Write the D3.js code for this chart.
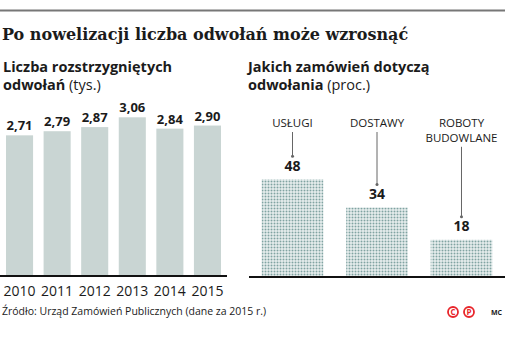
<!DOCTYPE html>
<html><head><meta charset="utf-8">
<script src="https://cdn.jsdelivr.net/npm/d3@7"></script>
<style>
html,body{margin:0;padding:0;background:#fff;}
svg{display:block;}
</style></head>
<body>
<script>
const years = ["2010","2011","2012","2013","2014","2015"];
const counts = [2.71, 2.79, 2.87, 3.06, 2.84, 2.90];
const countLabels = ["2,71","2,79","2,87","3,06","2,84","2,90"];
const categories = [["USŁUGI"],["DOSTAWY"],["ROBOTY","BUDOWLANE"]];
const shares = [48, 34, 18];

const W = 514, H = 342;
const sans = "'Open Sans', 'Noto Sans', sans-serif";
const serif = "'DejaVu Serif', serif";
const ink = "#1b1b1b";

const svg = d3.select("body").append("svg").attr("width", W).attr("height", H);

const defs = svg.append("defs");
const pat = defs.append("pattern").attr("id","dots").attr("patternUnits","userSpaceOnUse")
  .attr("width",3).attr("height",3);
pat.append("rect").attr("x",0.5).attr("y",0.5).attr("width",2).attr("height",2).attr("fill","#80a3a2");

svg.append("line").attr("x1",0).attr("x2",505).attr("y1",10.5).attr("y2",10.5)
  .attr("stroke","#777").attr("stroke-width",2);

svg.append("text").attr("x",2).attr("y",40).attr("font-family",serif).attr("font-weight","bold")
  .attr("font-size",16).attr("fill",ink).text("Po nowelizacji liczba odwołań może wzrosnąć");

function subtitle(x, l1, l2b, l2r){
  const t = svg.append("text").attr("x",x).attr("y",72).attr("font-family",sans).attr("font-size",14.5).attr("fill",ink);
  t.append("tspan").attr("font-weight","bold").text(l1);
  const t2 = svg.append("text").attr("x",x).attr("y",90).attr("font-family",sans).attr("font-size",14.5).attr("fill",ink);
  t2.append("tspan").attr("font-weight","bold").text(l2b);
  t2.append("tspan").text(" " + l2r);
}
subtitle(3, "Liczba rozstrzygniętych", "odwołań", "(tys.)");
subtitle(248, "Jakich zamówień dotyczą", "odwołania", "(proc.)");

// left chart
const xL = d3.scaleBand().domain(years).range([0,227]).paddingInner(0.28).paddingOuter(0.16);
const yL = d3.scaleLinear().domain([0, 3.06]).range([275, 117.3]);
const gL = svg.append("g");
gL.selectAll("rect").data(years).join("rect")
  .attr("x", d => xL(d)).attr("width", xL.bandwidth())
  .attr("y", (d,i) => yL(counts[i])).attr("height", (d,i) => yL(0) - yL(counts[i]))
  .attr("fill","#c9d5d3");
gL.selectAll("text.v").data(years).join("text").attr("class","v")
  .attr("x", d => xL(d) + xL.bandwidth()/2).attr("y", (d,i) => yL(counts[i]) - 5)
  .attr("text-anchor","middle").attr("font-family",sans).attr("font-weight","bold")
  .attr("font-size",13).attr("fill",ink).text((d,i) => countLabels[i]);
const axL = gL.append("g").attr("transform","translate(0,276)")
  .call(d3.axisBottom(xL).tickSize(0).tickPadding(10));
axL.select(".domain").attr("stroke","#111").attr("stroke-width",2).attr("d","M0,0H227");
axL.selectAll("text").attr("font-family",sans).attr("font-size",14).attr("fill",ink);

// right chart
const xR = d3.scaleBand().domain(categories.map(c => c.join(" "))).range([249,505]).paddingInner(0.27).paddingOuter(0.15);
const yR = d3.scaleLinear().domain([0, 48]).range([276, 179.3]);
const gR = svg.append("g");
categories.forEach((c, i) => {
  const key = c.join(" ");
  const cx = xR(key) + xR.bandwidth()/2;
  gR.append("rect").attr("x", xR(key)).attr("width", xR.bandwidth())
    .attr("y", yR(shares[i])).attr("height", yR(0) - yR(shares[i])).attr("fill","url(#dots)");
  const vb = yR(shares[i]) - 8.5;
  gR.append("text").attr("x", cx).attr("y", vb).attr("text-anchor","middle")
    .attr("font-family",sans).attr("font-weight","bold").attr("font-size",14).attr("fill",ink).text(shares[i]);
  c.forEach((line, j) => {
    gR.append("text").attr("x", cx).attr("y", 127 + j*14.8).attr("text-anchor","middle")
      .attr("font-family",sans).attr("font-size",11.5).attr("fill",ink).text(line);
  });
  const top = 127 + (c.length-1)*14.8 + 5;
  const bot = vb - 14.5;
  gR.append("line").attr("x1",cx).attr("x2",cx).attr("y1",top).attr("y2",bot)
    .attr("stroke","#666").attr("stroke-width",1);
  gR.append("circle").attr("cx",cx).attr("cy",bot).attr("r",1.5).attr("fill","#666");
});
gR.append("line").attr("x1",249).attr("x2",505).attr("y1",277).attr("y2",277)
  .attr("stroke","#111").attr("stroke-width",2);

svg.append("text").attr("x",2).attr("y",315).attr("font-family",sans).attr("font-size",10.5)
  .attr("fill",ink).text("Źródło: Urząd Zamówień Publicznych (dane za 2015 r.)");

[["C",453],["P",469]].forEach(([l,x]) => {
  svg.append("circle").attr("cx",x).attr("cy",312).attr("r",5).attr("fill","none")
    .attr("stroke","#e8262b").attr("stroke-width",1.8);
  svg.append("text").attr("x",x).attr("y",315.3).attr("text-anchor","middle")
    .attr("font-family",sans).attr("font-weight","bold").attr("font-size",8).attr("fill","#e8262b").text(l);
});
svg.append("text").attr("x",496.5).attr("y",314.5).attr("text-anchor","middle")
  .attr("font-family",sans).attr("font-weight","bold").attr("font-size",7).attr("fill",ink).text("MC");
</script>
</body></html>
